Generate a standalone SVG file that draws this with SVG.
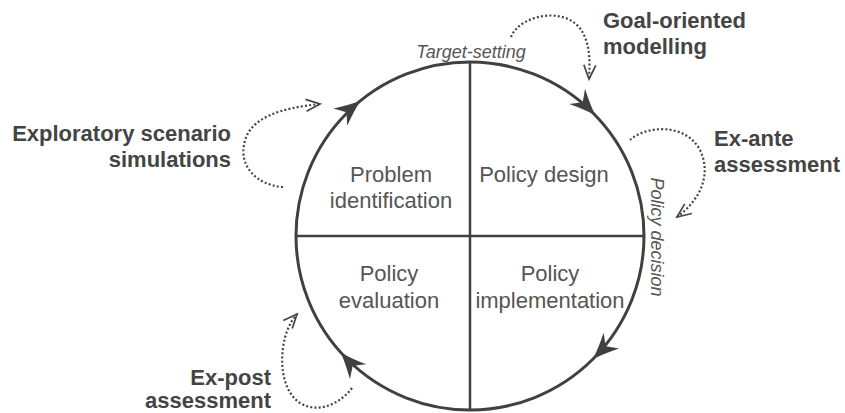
<svg xmlns="http://www.w3.org/2000/svg" width="845" height="413" viewBox="0 0 845 413">
  <style>
    .ring { fill: none; stroke: #404040; stroke-width: 3; }
    .divider { stroke: #404040; stroke-width: 2.5; }
    .stage { font-family: "Liberation Sans", Arial, sans-serif; font-size: 22px; fill: #555555; text-anchor: middle; }
    .milestone { font-family: "Liberation Sans", Arial, sans-serif; font-size: 18px; font-style: italic; fill: #555555; text-anchor: middle; }
    .tool { font-family: "Liberation Sans", Arial, sans-serif; font-size: 22px; font-weight: bold; fill: #444444; }
    .dotted { fill: none; stroke: #444444; stroke-width: 2.2; stroke-dasharray: 2 2.2; marker-end: url(#chevron); }
    .head { fill: #404040; }
  </style>
  <defs>
    <marker id="chevron" markerUnits="userSpaceOnUse" viewBox="-17 -9 19 18" markerWidth="19" markerHeight="18" refX="0" refY="0" orient="auto" overflow="visible">
      <path d="M-14,-6 L0,0 L-14,6" fill="none" stroke="#444444" stroke-width="1.7"/>
    </marker>
    <path id="flowhead" d="M0,0 Q-12,-4 -26,-11 L-18,0 L-26,11 Q-12,4 0,0 Z"/>
  </defs>

  <rect width="845" height="413" fill="#ffffff"/>

  <!-- policy cycle -->
  <g id="cycle">
    <circle class="ring" cx="470" cy="236" r="174"/>
    <line class="divider" x1="296" y1="236" x2="644" y2="236"/>
    <line class="divider" x1="470" y1="62" x2="470" y2="410"/>
  </g>

  <g id="problem-identification">
    <text class="stage" x="391" y="182">Problem</text>
    <text class="stage" x="391" y="208">identification</text>
  </g>
  <g id="policy-design">
    <text class="stage" x="544" y="182">Policy design</text>
  </g>
  <g id="policy-evaluation">
    <text class="stage" x="389" y="281">Policy</text>
    <text class="stage" x="389" y="308">evaluation</text>
  </g>
  <g id="policy-implementation">
    <text class="stage" x="550" y="281">Policy</text>
    <text class="stage" x="550" y="308">implementation</text>
  </g>

  <g id="target-setting">
    <text class="milestone" x="471" y="58">Target-setting</text>
  </g>
  <g id="policy-decision">
    <text class="milestone" transform="translate(651 237) rotate(90)">Policy decision</text>
  </g>

  <g id="goal-oriented-modelling">
    <text class="tool" x="603" y="28">Goal-oriented</text>
    <text class="tool" x="603" y="54">modelling</text>
  </g>
  <g id="ex-ante-assessment">
    <text class="tool" x="714" y="146">Ex-ante</text>
    <text class="tool" x="714" y="172">assessment</text>
  </g>
  <g id="exploratory-scenario-simulations">
    <text class="tool" x="231" y="141" text-anchor="end">Exploratory scenario</text>
    <text class="tool" x="231" y="167" text-anchor="end">simulations</text>
  </g>
  <g id="ex-post-assessment">
    <text class="tool" x="271" y="385" text-anchor="end">Ex-post</text>
    <text class="tool" x="271" y="408" text-anchor="end">assessment</text>
  </g>

  <g id="connectors">
    <!-- clockwise flow heads on the ring -->
    <use href="#flowhead" class="head" transform="translate(360.5 100.8) rotate(321)"/>
    <use href="#flowhead" class="head" transform="translate(595.2 115.1) rotate(46)"/>
    <use href="#flowhead" class="head" transform="translate(593 359) rotate(135)"/>
    <use href="#flowhead" class="head" transform="translate(340.7 352.4) rotate(228)"/>

    <!-- dotted links from each tool to its stage -->
    <path class="dotted" d="M511,37 C520,14 570,4 584,35 C590,48 590,62 589,79"/>
    <path class="dotted" d="M630,140 C645,126 685,122 700,150 C712,175 700,200 677,217"/>
    <path class="dotted" d="M283,187 C255,185 240,165 244,145 C248,118 280,108 320,104"/>
    <path class="dotted" d="M352,388 C340,404 318,414 300,403 C285,393 280,370 283,348 C285,333 290,322 297,314"/>
  </g>
</svg>
